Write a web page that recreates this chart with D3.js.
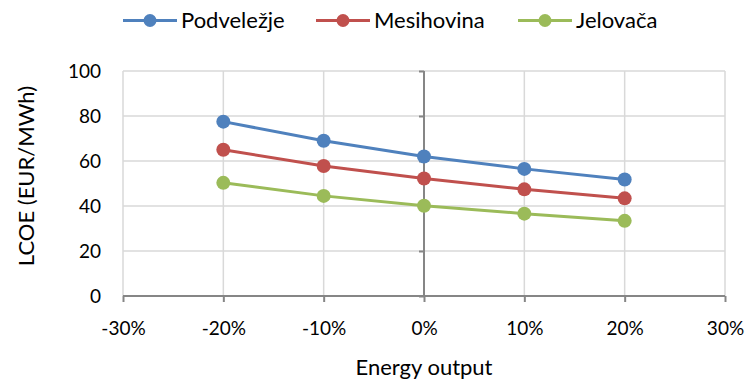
<!DOCTYPE html>
<html>
<head>
<meta charset="utf-8">
<script src="https://cdn.jsdelivr.net/npm/d3@7"></script>
<style>
  html, body { margin: 0; padding: 0; background: #ffffff; }
  svg { display: block; font-family: "Lato", "Open Sans", sans-serif; }
</style>
</head>
<body>
<svg id="chart" width="748" height="380"></svg>
<script>
// Change in energy output (share) and the resulting LCOE per site
const energyOutput = [-0.2, -0.1, 0, 0.1, 0.2];
const podvelezje = [77.5, 69.0, 62.0, 56.5, 51.8];
const mesihovina = [65.0, 57.8, 52.2, 47.4, 43.4];
const jelovaca = [50.3, 44.5, 40.1, 36.6, 33.4];

const seriesNames = ["Podveležje", "Mesihovina", "Jelovača"];
const seriesColors = ["#4f81bd", "#c0504d", "#9bbb59"];
const seriesValues = [podvelezje, mesihovina, jelovaca];

const xTicks = [-0.3, -0.2, -0.1, 0, 0.1, 0.2, 0.3];
const yTicks = [0, 20, 40, 60, 80, 100];

const svg = d3.select("#chart");

const x = d3.scaleLinear().domain([-0.3, 0.3]).range([123, 725]);
const y = d3.scaleLinear().domain([0, 100]).range([296, 71]);

const gridColor = "#d9d9d9";
const axisColor = "#868686";
const tickFont = 19;
const titleFont = 22;

// Gridlines
svg.append("g").selectAll("line").data(yTicks.filter(d => d > 0)).join("line")
  .attr("x1", x(-0.3)).attr("x2", x(0.3))
  .attr("y1", d => y(d)).attr("y2", d => y(d))
  .attr("stroke", gridColor).attr("stroke-width", 1.5);

svg.append("g").selectAll("line").data(xTicks.filter(d => d !== 0)).join("line")
  .attr("x1", d => x(d)).attr("x2", d => x(d))
  .attr("y1", y(0)).attr("y2", y(100))
  .attr("stroke", gridColor).attr("stroke-width", 1.5);

// Vertical value axis crossing at 0%
const yAxis = d3.axisLeft(y).tickValues(yTicks).tickSize(5).tickFormat("");
const yAxisG = svg.append("g").attr("transform", `translate(${x(0)},0)`).call(yAxis);
yAxisG.select(".domain").attr("stroke", axisColor).attr("stroke-width", 2)
  .attr("d", `M0,${y(0)}V${y(100)}`);
yAxisG.selectAll(".tick line").attr("stroke", axisColor).attr("stroke-width", 2);

// Horizontal category axis at 0
const xAxis = d3.axisBottom(x).tickValues(xTicks).tickSize(6)
  .tickFormat(d => d3.format(".0%")(d).replace("−", "-"));
const xAxisG = svg.append("g").attr("transform", `translate(0,${y(0)})`).call(xAxis);
xAxisG.select(".domain").attr("stroke", axisColor).attr("stroke-width", 2)
  .attr("d", `M${x(-0.3)},0H${x(0.3)}`);
xAxisG.selectAll(".tick line").attr("stroke", axisColor).attr("stroke-width", 2);
xAxisG.selectAll(".tick text")
  .attr("y", 39).attr("dy", null)
  .attr("font-size", tickFont).attr("font-family", "Lato, sans-serif").attr("fill", "#000");

// Y tick labels on the left side of the plot
svg.append("g").selectAll("text").data(yTicks).join("text")
  .attr("x", 101).attr("y", d => y(d)).attr("dy", "0.35em")
  .attr("text-anchor", "end").attr("font-size", tickFont).attr("fill", "#000")
  .text(d => d);

// Axis titles
svg.append("text")
  .attr("x", x(0)).attr("y", 375)
  .attr("text-anchor", "middle").attr("font-size", titleFont).attr("fill", "#000")
  .text("Energy output");

svg.append("text")
  .attr("transform", `translate(34,176) rotate(-90)`)
  .attr("text-anchor", "middle").attr("font-size", titleFont).attr("fill", "#000")
  .text("LCOE (EUR/MWh)");

// Series lines and markers
const line = d3.line().x((d, i) => x(energyOutput[i])).y(d => y(d));

seriesValues.forEach((vals, s) => {
  const g = svg.append("g");
  g.append("path").datum(vals)
    .attr("d", line).attr("fill", "none")
    .attr("stroke", seriesColors[s]).attr("stroke-width", 3)
    .attr("stroke-linejoin", "round");
  g.selectAll("circle").data(vals).join("circle")
    .attr("cx", (d, i) => x(energyOutput[i])).attr("cy", d => y(d))
    .attr("r", 7).attr("fill", seriesColors[s]);
});

// Legend
const legendStarts = [123, 316, 518];
const legend = svg.append("g");
seriesNames.forEach((name, s) => {
  const lx = legendStarts[s];
  const ly = 20.5;
  legend.append("line")
    .attr("x1", lx).attr("x2", lx + 54).attr("y1", ly).attr("y2", ly)
    .attr("stroke", seriesColors[s]).attr("stroke-width", 3);
  legend.append("circle")
    .attr("cx", lx + 27).attr("cy", ly).attr("r", 6.5).attr("fill", seriesColors[s]);
  legend.append("text")
    .attr("x", lx + 58).attr("y", 27.5)
    .attr("font-size", titleFont).attr("fill", "#000")
    .text(name);
});
</script>
</body>
</html>
